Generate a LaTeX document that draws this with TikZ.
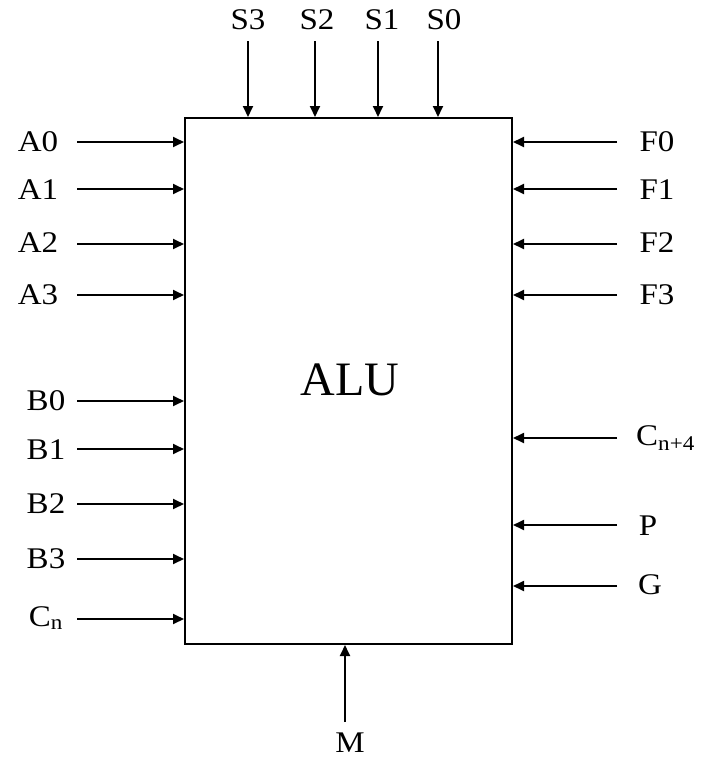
\documentclass[tikz,border=0pt]{standalone}
\usepackage{fontspec}
\setmainfont{Liberation Serif}
\usetikzlibrary{arrows.meta}
\begin{document}
\begin{tikzpicture}[x=1pt,y=-1pt,
  arr/.style={line width=1.8pt,-{Triangle[length=11pt,width=10pt]}},
  lbl/.style={font=\fontsize{30}{32}\selectfont,inner sep=0pt,xscale=1.1},
  box/.style={draw,line width=2pt,minimum width=327pt,minimum height=526pt,inner sep=0pt}]
\useasboundingbox (0,0) rectangle (706,761);
\node[box] (alu) at (348.5,381) {};
\node[font=\fontsize{48}{50}\selectfont,inner sep=0pt] (alut) at (350,380) {ALU};
% left labels
\foreach \n/\t/\x/\y in {a0/A0/38/142,a1/A1/38/190,a2/A2/38/243,a3/A3/38/295,
  b0/B0/46/401,b1/B1/46/450,b2/B2/46/504,b3/B3/46/559}{
  \node[lbl] (\n) at (\x,\y) {\t};
}
\node[lbl] (cn) at (46,618) {C\textsubscript{n}};
\foreach \n/\y in {a0/142,a1/189,a2/244,a3/295,b0/401,b1/449,b2/504,b3/559,cn/619}{
  \coordinate (\n s) at (77,\y);
  \draw[arr] (\n s) -- (\n s -| alu.west);
}
% right labels
\foreach \n/\t/\y in {f0/F0/142,f1/F1/190,f2/F2/243,f3/F3/295}{
  \node[lbl] (\n) at (657,\y) {\t};
}
\node[lbl,anchor=west] (cn4) at (636,438) {C\textsubscript{n+4}};
\node[lbl] (p) at (648,526) {P};
\node[lbl] (g) at (650,585) {G};
\foreach \n/\y in {f0/142,f1/189,f2/244,f3/295,cn4/438,p/525,g/586}{
  \coordinate (\n s) at (617,\y);
  \draw[arr] (\n s) -- (\n s -| alu.east);
}
% top labels
\foreach \n/\t/\x/\ax in {s3/S3/248/248,s2/S2/317/315,s1/S1/382/378,s0/S0/444/438}{
  \node[lbl] (\n) at (\x,20) {\t};
  \coordinate (\n s) at (\ax,41);
  \draw[arr] (\n s) -- (\n s |- alu.north);
}
% bottom
\node[lbl] (m) at (350,743) {M};
\coordinate (ms) at (345,722);
\draw[arr] (ms) -- (ms |- alu.south);
\end{tikzpicture}
\end{document}
